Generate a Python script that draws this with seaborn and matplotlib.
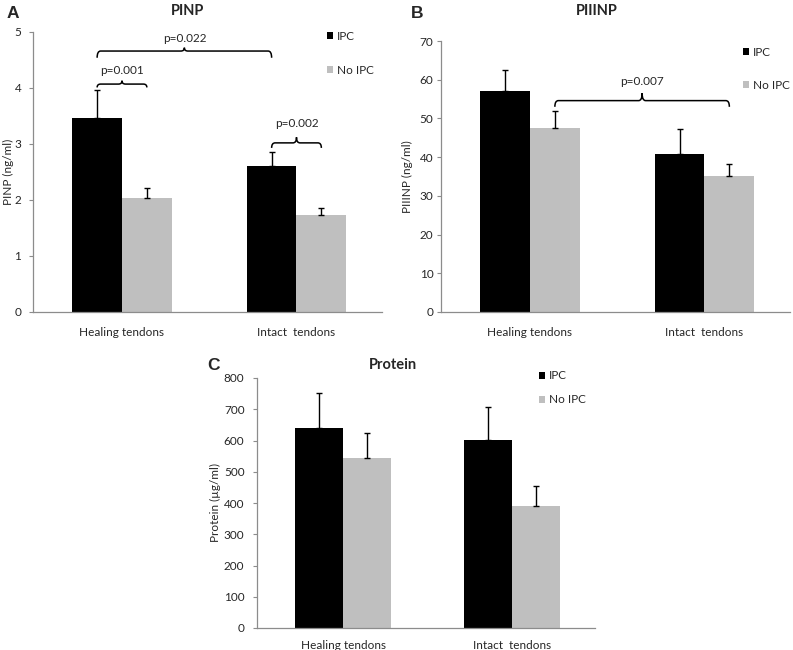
import numpy as np
import pandas as pd
import matplotlib
matplotlib.use("Agg")
import matplotlib.pyplot as plt
from matplotlib.path import Path
from matplotlib.patches import PathPatch, Patch
from matplotlib.container import BarContainer
import seaborn as sns

# ---------------- data ----------------
tendons = ["Healing tendons", "Intact  tendons"]
groups = ["IPC", "No IPC"]

pinp_ipc = [3.46, 2.60]
pinp_noipc = [2.04, 1.73]
pinp_ipc_err = [0.50, 0.26]
pinp_noipc_err = [0.18, 0.12]

piiinp_ipc = [57.1, 40.7]
piiinp_noipc = [47.5, 35.2]
piiinp_ipc_err = [5.4, 6.5]
piiinp_noipc_err = [4.3, 3.0]

prot_ipc = [640, 601]
prot_noipc = [545, 389]
prot_ipc_err = [112, 107]
prot_noipc_err = [80, 66]

colors = ["#000000", "#BFBFBF"]

W, H = 793, 650
sns.set_style("white")
plt.rcParams["font.family"] = ["Lato", "DejaVu Sans"]
FS = 8.5

fig = plt.figure(figsize=(W / 100, H / 100), dpi=100)


def px(x, y):
    return x / W, 1 - y / H


def rect(l, r, t, b):
    return [l / W, 1 - b / H, (r - l) / W, (b - t) / H]


def brace(ax, x0, x1, y, dend, dpeak, r=0.02):
    xm = (x0 + x1) / 2
    verts = [(x0, y - dend), (x0, y), (x0 + r, y), (xm - r, y), (xm, y), (xm, y + dpeak),
             (xm, y), (xm + r, y), (x1 - r, y), (x1, y), (x1, y - dend)]
    codes = [Path.MOVETO, Path.CURVE3, Path.CURVE3, Path.LINETO, Path.CURVE3, Path.CURVE3,
             Path.CURVE3, Path.CURVE3, Path.LINETO, Path.CURVE3, Path.CURVE3]
    ax.add_patch(PathPatch(Path(verts, codes), fill=False, lw=1.1, ec="black", clip_on=False))


def bar_containers(ax):
    return [c for c in ax.containers if isinstance(c, BarContainer)]


def panel(rect_px, ipc, noipc, ipc_err, noipc_err, ylim, yticks, ylabel,
          ylabelpad, ytickpad, xtickpad):
    ax = fig.add_axes(rect(*rect_px))
    df = pd.DataFrame({
        "tendon": tendons * 2,
        "group": [groups[0]] * 2 + [groups[1]] * 2,
        "value": list(ipc) + list(noipc),
    })
    sns.barplot(data=df, x="tendon", y="value", hue="group", hue_order=groups,
                palette=colors, width=0.57, errorbar=None, saturation=1,
                legend=False, ax=ax, linewidth=0)
    errs = [ipc_err, noipc_err]
    for cont, err in zip(bar_containers(ax), errs):
        for bar, e in zip(cont.patches, err):
            xc = bar.get_x() + bar.get_width() / 2
            h = bar.get_height()
            ax.errorbar([xc], [h], yerr=[[0], [e]], fmt="none", ecolor="black",
                        elinewidth=1.0, capsize=2, capthick=1.0, zorder=3)
    ax.set_xlim(-0.51, 1.49)
    ax.set_ylim(*ylim)
    ax.set_yticks(yticks)
    ax.set_xlabel("")
    ax.set_ylabel(ylabel, fontsize=FS, labelpad=ylabelpad)
    for s in ["top", "right"]:
        ax.spines[s].set_visible(False)
    for s in ["left", "bottom"]:
        ax.spines[s].set_color("#8c8c8c")
        ax.spines[s].set_linewidth(0.9)
    ax.tick_params(axis="y", left=True, length=3, width=0.8, color="#8c8c8c",
                   labelsize=FS, pad=ytickpad)
    ax.tick_params(axis="x", bottom=False, labelsize=FS, pad=xtickpad)
    return ax


def centers(ax):
    return [[b.get_x() + b.get_width() / 2 for b in c.patches] for c in bar_containers(ax)]


def legend(ax, xpx, ypx, spacing):
    handles = [Patch(fc=c, ec="none") for c in colors]
    ax.legend(handles, groups, loc="upper left", bbox_to_anchor=px(xpx, ypx),
              bbox_transform=fig.transFigure, frameon=False, fontsize=FS,
              borderpad=0, borderaxespad=0, handlelength=0.55, handleheight=0.55,
              handletextpad=0.3, labelspacing=spacing)


# ---------------- Panel A ----------------
axA = panel((33, 382, 32, 312), pinp_ipc, pinp_noipc, pinp_ipc_err, pinp_noipc_err,
            (0, 5), [0, 1, 2, 3, 4, 5], "PINP (ng/ml)", 0.5, 5.5, 7)
cA = centers(axA)
brace(axA, cA[0][0], cA[0][1], 4.66, 0.12, 0.06)
axA.text((cA[0][0] + cA[0][1]) / 2, 4.875, "p=0.022", ha="center", va="center", fontsize=FS)
brace(axA, cA[0][0], cA[1][0], 4.07, 0.06, 0.06)
axA.text((cA[0][0] + cA[1][0]) / 2, 4.31, "p=0.001", ha="center", va="center", fontsize=FS)
brace(axA, cA[0][1], cA[1][1], 3.02, 0.09, 0.1)
axA.text((cA[0][1] + cA[1][1]) / 2, 3.37, "p=0.002", ha="center", va="center", fontsize=FS)
legend(axA, 327, 30.5, 1.95)

# ---------------- Panel B ----------------
axB = panel((441, 790, 41, 312), piiinp_ipc, piiinp_noipc, piiinp_ipc_err, piiinp_noipc_err,
            (0, 70), [0, 10, 20, 30, 40, 50, 60, 70], "PIIINP (ng/ml)", 5, 2.5, 7)
cB = centers(axB)
brace(axB, cB[1][0], cB[1][1], 54.6, 1.6, 1.9)
axB.text((cB[1][0] + cB[1][1]) / 2, 59.5, "p=0.007", ha="center", va="center", fontsize=FS)
legend(axB, 743, 47, 1.85)

# ---------------- Panel C ----------------
axC = panel((257, 595, 378, 628), prot_ipc, prot_noipc, prot_ipc_err, prot_noipc_err,
            (0, 800), [0, 100, 200, 300, 400, 500, 600, 700, 800], "Protein (µg/ml)",
            2, 6, 5)
legend(axC, 539, 370.5, 1.1)

# ---------------- titles & letters ----------------
fig.text(*px(188, 11), "PINP", ha="center", va="center", fontsize=10.5, fontweight="bold")
fig.text(*px(597, 11), "PIIINP", ha="center", va="center", fontsize=10.5, fontweight="bold")
fig.text(*px(393, 365), "Protein", ha="center", va="center", fontsize=10.5, fontweight="bold")
for lab, x, y in [("A", 13, 13), ("B", 417, 14), ("C", 213, 365)]:
    fig.text(*px(x, y), lab, ha="center", va="center", fontsize=12.5, fontweight="bold",
             family=["Liberation Sans", "DejaVu Sans"])

fig.savefig("out.png", dpi=100)
